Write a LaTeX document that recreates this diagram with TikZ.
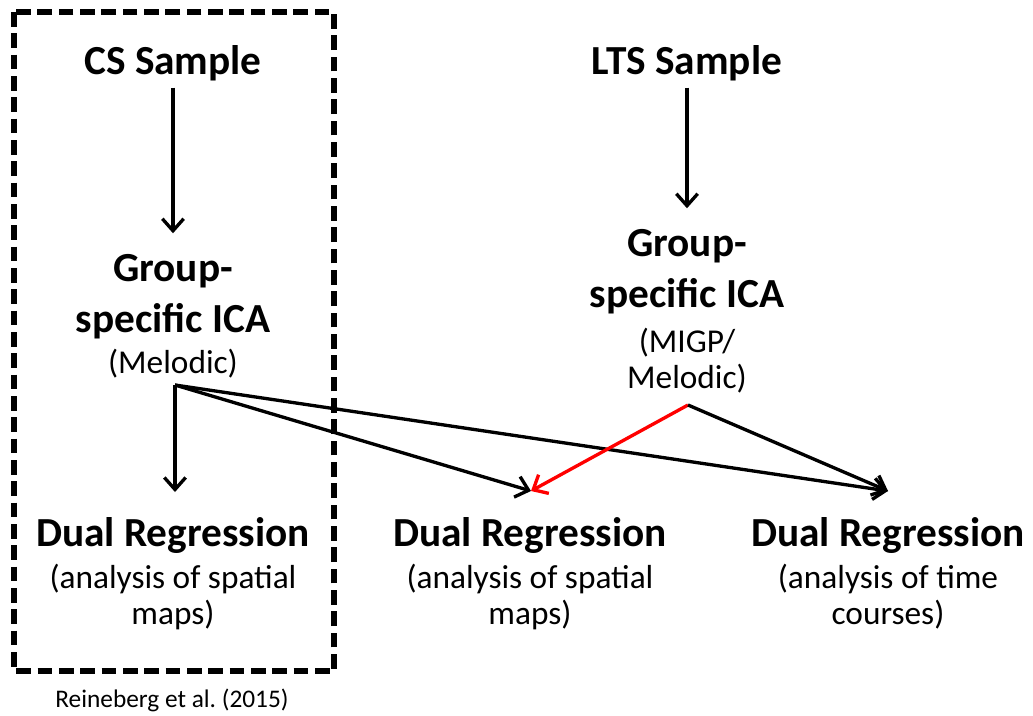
\documentclass[tikz,border=0pt]{standalone}
\usepackage{fontspec}
\setmainfont{Carlito}
\usetikzlibrary{arrows.meta}

\begin{document}
\begin{tikzpicture}[x=0.75pt,y=-0.75pt,
        head/.style={font=\bfseries\fontsize{31}{38}\selectfont, align=center, inner sep=0pt},
        note/.style={font=\fontsize{25}{27}\selectfont, align=center, inner sep=0pt},
        arr/.style={line width=2.5pt, -{Straight Barb[length=9pt,width=16pt]}},
    ]
    \useasboundingbox (0,0) rectangle (1033,715);

    % CS sample, framed
    \draw[line width=4pt, dash pattern=on 11pt off 5pt] (14,12) rectangle (334,671);
    \node[head] (cs) at (173,63) {CS Sample};
    \node[head] (csica) at (173,297) {Group-\\specific ICA};
    \node[note] (csmel) at (173,364) {(Melodic)};
    \node[head] (csdr) at (173,535) {Dual Regression};
    \node[note] (csnote) at (173,597) {(analysis of spatial\\maps)};
    \node[font=\fontsize{19}{21}\selectfont, inner sep=0pt] (cite) at (172,700) {Reineberg et al.\ (2015)};

    % LTS sample
    \node[head] (lts) at (687,63) {LTS Sample};
    \node[head] (ltsica) at (687,272) {Group-\\specific ICA};
    \node[note] (ltsmel) at (687,361) {(MIGP/\\Melodic)};

    \node[head] (middr) at (530,535) {Dual Regression};
    \node[note] (midnote) at (530,597) {(analysis of spatial\\maps)};
    \node[head] (timedr) at (888,535) {Dual Regression};
    \node[note] (timenote) at (888,597) {(analysis of time\\courses)};

    \coordinate (csfork) at (175,385);
    \coordinate (ltsfork) at (688,405);
    \coordinate (csin) at (175,492);
    \coordinate (midin) at (531,491);
    \coordinate (timein) at (888,491);

    \draw[arr, shorten <=5pt, shorten >=16pt] (cs) -- (csica);
    \draw[arr, shorten <=5pt, shorten >=16pt] (lts) -- (ltsica);

    \draw[arr] (csfork) -- (csin);
    \draw[arr] (csfork) -- (midin);
    \draw[arr] (csfork) -- (timein);
    \draw[arr, red] (ltsfork) -- (midin);
    \draw[arr] (ltsfork) -- (timein);
\end{tikzpicture}
\end{document}
